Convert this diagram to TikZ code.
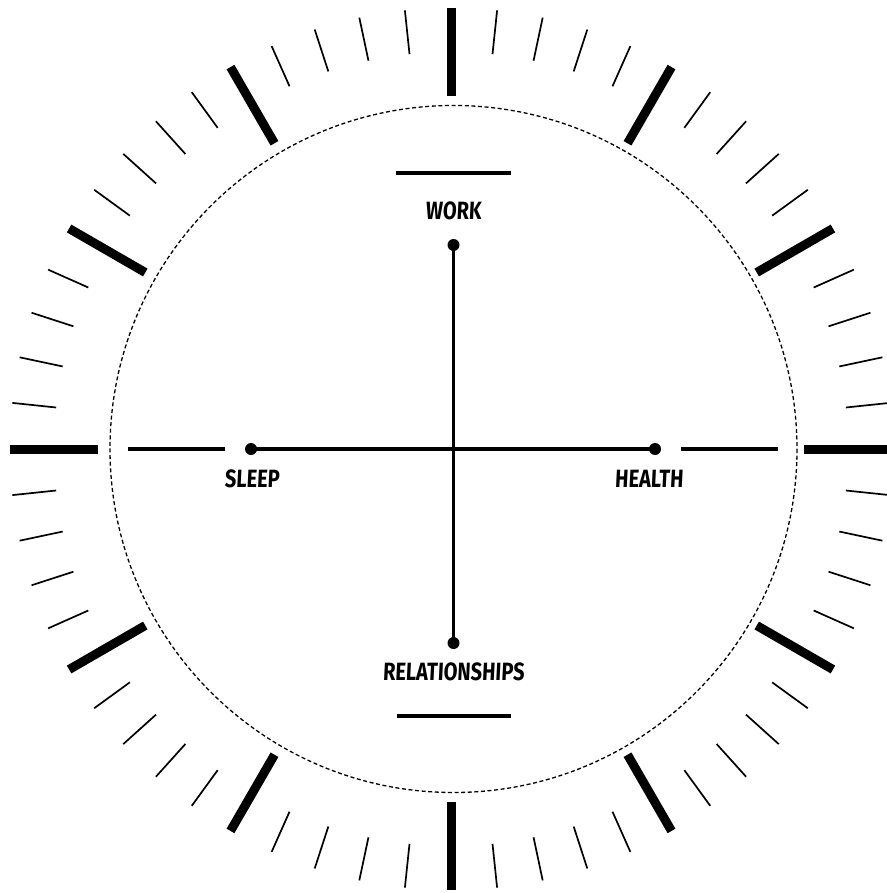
\documentclass[tikz,border=0pt]{standalone}
\usepackage{fontspec}
\usetikzlibrary{calc}
\newfontfamily\labfont{Fira Sans}[FakeStretch=0.8,FakeSlant=0.05]
\begin{document}
\begin{tikzpicture}[x=1pt,y=-1pt,
  majortick/.style={line width=9pt},
  minortick/.style={line width=1.7pt},
  axisline/.style={line width=3.2pt},
  capline/.style={line width=3.3pt},
  dotmark/.style={circle,fill=black,inner sep=0pt,minimum size=12pt},
  lab/.style={font=\labfont\bfseries\fontsize{25}{25}\selectfont,inner sep=0pt,text height=18pt,text depth=0pt}]
\useasboundingbox (0,0) rectangle (886,893);
% ticks
\coordinate (tc) at (451,449);
\foreach \i in {0,...,59}{
  \pgfmathtruncatemacro{\m}{mod(\i,5)}
  \ifnum\m=0
    \draw[majortick] ($(tc)+(\i*6:353)$) -- ($(tc)+(\i*6:441)$);
  \else
    \draw[minortick] ($(tc)+(\i*6:397)$) -- ($(tc)+(\i*6:441)$);
  \fi
}
% dashed circle
\coordinate (cc) at (453.5,449);
\draw[line width=1.3pt,dash pattern=on 4pt off 2.6pt] (cc) circle[radius=343.5];
% dots
\node[dotmark] (work) at (453.5,245) {};
\node[dotmark] (rel) at (453.5,643) {};
\node[dotmark] (sleep) at (251,449) {};
\node[dotmark] (health) at (655,449) {};
\draw[axisline] (work.center) -- (rel.center);
\draw[axisline] (sleep.center) -- (health.center);
% cap lines
\coordinate (tl1) at (396,173); \coordinate (tl2) at (511,173);
\coordinate (bl1) at (397,716); \coordinate (bl2) at (511,716);
\coordinate (ll1) at (128,449); \coordinate (ll2) at (225,449);
\coordinate (rl1) at (681,449); \coordinate (rl2) at (778,449);
\draw[capline] (tl1) -- (tl2);
\draw[capline] (bl1) -- (bl2);
\draw[capline] (ll1) -- (ll2);
\draw[capline] (rl1) -- (rl2);
% labels
\node[lab] (lwork) at (453.5,211) {WORK};
\node[lab] (lsleep) at (252,478) {SLEEP};
\node[lab] (lhealth) at (649,478) {HEALTH};
\node[lab] (lrel) at (453.5,671) {RELATIONSHIPS};
\end{tikzpicture}
\end{document}
